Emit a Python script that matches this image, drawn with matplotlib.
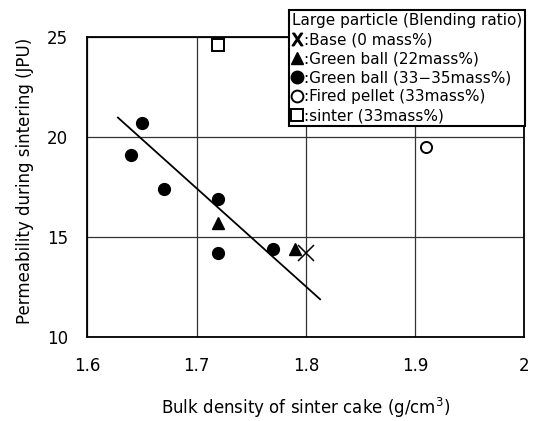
import matplotlib
matplotlib.use("Agg")
import matplotlib.pyplot as plt
from matplotlib.lines import Line2D
import numpy as np

# bulk density (g/cm3) and permeability (JPU) for each particle type
base_x = [1.80]
base_y = [14.2]
green22_x = [1.72, 1.79]
green22_y = [15.7, 14.4]
green33_x = [1.65, 1.64, 1.67, 1.72, 1.72, 1.77]
green33_y = [20.7, 19.1, 17.4, 16.9, 14.2, 14.4]
fired_x = [1.91]
fired_y = [19.5]
sinter_x = [1.72]
sinter_y = [24.6]

# regression line: y = slope * x + intercept over fit_range
fit_slope = -49.0
fit_intercept = 20.96 + 49.0 * 1.628
fit_range = [1.628, 1.813]

xticks = [1.6, 1.7, 1.8, 1.9, 2.0]
xtick_labels = ['1.6', '1.7', '1.8', '1.9', '2']
yticks = [10, 15, 20, 25]

legend_title = 'Large particle (Blending ratio)'
legend_labels = [':Base (0 mass%)',
                 ':Green ball (22mass%)',
                 ':Green ball (33\u221235mass%)',
                 ':Fired pellet (33mass%)',
                 ':sinter (33mass%)']

plt.rcParams['font.family'] = 'DejaVu Sans'
plt.rcParams['mathtext.default'] = 'regular'

fig = plt.figure(figsize=(5.39, 4.21), dpi=100)
ax = fig.add_axes([0.162, 0.199, 0.811, 0.714])

ax.set_xlim(1.6, 2.0)
ax.set_ylim(10, 25)
ax.set_xticks(xticks)
ax.set_xticklabels(xtick_labels)
ax.set_yticks(yticks)
ax.tick_params(length=0, pad=14, labelsize=12)
ax.grid(True, color='#333333', lw=0.9)
ax.set_axisbelow(True)
for s in ax.spines.values():
    s.set_linewidth(1.3)

fx = np.array(fit_range)
ax.plot(fx, fit_slope * fx + fit_intercept, color='black', lw=1.3, zorder=3)

ax.plot(base_x, base_y, ls='none', marker='x', ms=12, mew=1.1, color='black', zorder=4)
ax.plot(green22_x, green22_y, ls='none', marker='^', ms=9, color='black', zorder=4)
ax.plot(green33_x, green33_y, ls='none', marker='o', ms=8.5, color='black', zorder=4)
ax.plot(fired_x, fired_y, ls='none', marker='o', ms=8, mfc='white', mec='black',
        mew=1.4, zorder=4)
ax.plot(sinter_x, sinter_y, ls='none', marker='s', ms=8, mfc='white', mec='black',
        mew=1.4, zorder=4)

ax.set_xlabel(r'Bulk density of sinter cake (g/cm$^3$)', fontsize=12)
ax.set_ylabel('Permeability during sintering (JPU)', fontsize=12)
ax.xaxis.set_label_coords(0.5, -0.195)
ax.yaxis.set_label_coords(-0.122, 0.52)

handles = [
    Line2D([], [], ls='none', marker='$\\mathrm{X}$', ms=9, color='black'),
    Line2D([], [], ls='none', marker='^', ms=9, color='black'),
    Line2D([], [], ls='none', marker='o', ms=9, color='black'),
    Line2D([], [], ls='none', marker='o', ms=8.5, mfc='white', mec='black', mew=1.4),
    Line2D([], [], ls='none', marker='s', ms=8.5, mfc='white', mec='black', mew=1.4),
]
leg = ax.legend(handles, legend_labels, title=legend_title, loc='upper left',
                bbox_to_anchor=(0.536, 0.976), bbox_transform=fig.transFigure,
                fontsize=11, title_fontsize=11, alignment='left',
                handlelength=0.7, handletextpad=0.1, labelspacing=0.26,
                borderpad=0.2, borderaxespad=0, fancybox=False, framealpha=1,
                edgecolor='black')
leg.get_frame().set_linewidth(1.5)
leg.set_zorder(10)

fig.savefig('out.png', dpi=100)
